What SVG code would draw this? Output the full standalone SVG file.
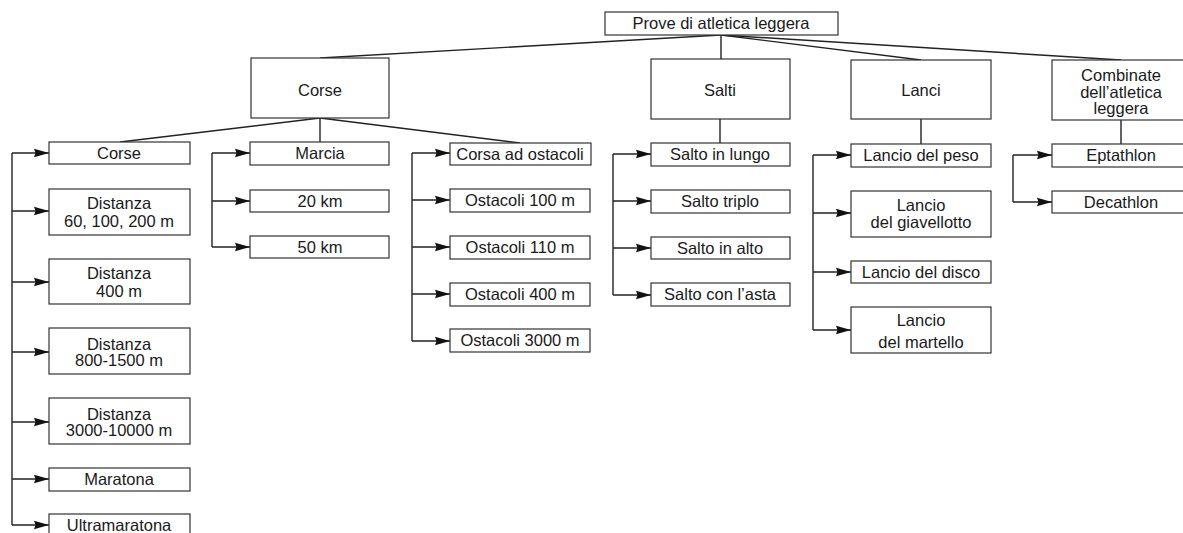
<svg xmlns="http://www.w3.org/2000/svg" width="1183" height="533" viewBox="0 0 1183 533">
<defs>
<style>
rect.b{fill:#fff;stroke:#333;stroke-width:1.2}
text{font-family:"Liberation Sans",Arial,sans-serif;font-size:16.5px;fill:#1a1a1a;text-anchor:middle}
.c path,.c line{fill:none;stroke:#222;stroke-width:1.4}
.a{marker-end:url(#ah)}
</style>
<marker id="ah" markerWidth="16" markerHeight="10" refX="15" refY="5" orient="auto" markerUnits="userSpaceOnUse">
<path d="M0,0.8 L15,5 L0,9.2 L1.5,5 Z" fill="#111" stroke="none"/>
</marker>
</defs>
<rect width="1183" height="533" fill="#fff"/>
<g class="c" id="connectors">
<line x1="721" y1="35" x2="320" y2="58"/>
<line x1="721" y1="35" x2="721" y2="59"/>
<line x1="721" y1="35" x2="921" y2="60"/>
<line x1="721" y1="35" x2="1121" y2="60"/>
<line x1="320" y1="118" x2="120" y2="142"/>
<line x1="320" y1="118" x2="320" y2="142"/>
<line x1="320" y1="118" x2="520" y2="143"/>
<line x1="720" y1="119" x2="720" y2="143"/>
<line x1="921" y1="119" x2="921" y2="144"/>
<line x1="1121" y1="120" x2="1121" y2="144"/>
<path d="M12,153 V525"/>
<path class="a" d="M12,153 H49"/>
<path class="a" d="M12,211 H49"/>
<path class="a" d="M12,282 H49"/>
<path class="a" d="M12,352 H49"/>
<path class="a" d="M12,422 H49"/>
<path class="a" d="M12,479 H49"/>
<path class="a" d="M12,525 H49"/>
<path d="M212,247 V153"/>
<path class="a" d="M212,153 H250"/>
<path class="a" d="M212,201 H250"/>
<path class="a" d="M212,247 H250"/>
<path d="M412,341 V153"/>
<path class="a" d="M412,153 H450"/>
<path class="a" d="M412,200 H450"/>
<path class="a" d="M412,247 H450"/>
<path class="a" d="M412,294 H450"/>
<path class="a" d="M412,341 H450"/>
<path d="M613,295 V154"/>
<path class="a" d="M613,154 H651"/>
<path class="a" d="M613,201 H651"/>
<path class="a" d="M613,248 H651"/>
<path class="a" d="M613,295 H651"/>
<path d="M813,330 V155"/>
<path class="a" d="M813,155 H851"/>
<path class="a" d="M813,213 H851"/>
<path class="a" d="M813,272 H851"/>
<path class="a" d="M813,330 H851"/>
<path d="M1013,202 V155"/>
<path class="a" d="M1013,155 H1052"/>
<path class="a" d="M1013,202 H1052"/>
</g>
<g id="root"><rect class="b" x="605" y="12" width="233" height="23"/><text x="721" y="29">Prove di atletica leggera</text></g>
<g id="corse-top"><rect class="b" x="251" y="58" width="138" height="60"/><text x="320" y="96">Corse</text></g>
<g id="salti"><rect class="b" x="651" y="59" width="139" height="60"/><text x="720" y="96">Salti</text></g>
<g id="lanci"><rect class="b" x="851" y="60" width="140" height="59"/><text x="921" y="96">Lanci</text></g>
<g id="combinate"><rect class="b" x="1052" y="60" width="140" height="60"/><text x="1121" y="81">Combinate</text><text x="1121" y="98">dell’atletica</text><text x="1121" y="114">leggera</text></g>
<g id="corse"><rect class="b" x="49" y="142" width="141" height="22"/><text x="119" y="159">Corse</text></g>
<g id="dist60"><rect class="b" x="49" y="189" width="141" height="46"/><text x="119" y="209">Distanza</text><text x="119" y="227">60, 100, 200 m</text></g>
<g id="dist400"><rect class="b" x="49" y="259" width="141" height="45"/><text x="119" y="279">Distanza</text><text x="119" y="297">400 m</text></g>
<g id="dist800"><rect class="b" x="49" y="328" width="141" height="46"/><text x="119" y="350">Distanza</text><text x="119" y="366">800-1500 m</text></g>
<g id="dist3000"><rect class="b" x="49" y="398" width="141" height="46"/><text x="119" y="420">Distanza</text><text x="119" y="436">3000-10000 m</text></g>
<g id="maratona"><rect class="b" x="49" y="468" width="141" height="23"/><text x="119" y="485">Maratona</text></g>
<g id="ultramaratona"><rect class="b" x="49" y="514" width="141" height="24"/><text x="119" y="531">Ultramaratona</text></g>
<g id="marcia"><rect class="b" x="250" y="142" width="139" height="23"/><text x="320" y="159">Marcia</text></g>
<g id="km20"><rect class="b" x="250" y="190" width="139" height="22"/><text x="320" y="207">20 km</text></g>
<g id="km50"><rect class="b" x="250" y="236" width="139" height="22"/><text x="320" y="253">50 km</text></g>
<g id="ostacoli"><rect class="b" x="450" y="143" width="141" height="22"/><text x="520" y="160">Corsa ad ostacoli</text></g>
<g id="ost100"><rect class="b" x="450" y="189" width="140" height="23"/><text x="520" y="206">Ostacoli 100 m</text></g>
<g id="ost110"><rect class="b" x="450" y="236" width="140" height="23"/><text x="520" y="253">Ostacoli 110 m</text></g>
<g id="ost400"><rect class="b" x="450" y="283" width="140" height="23"/><text x="520" y="300">Ostacoli 400 m</text></g>
<g id="ost3000"><rect class="b" x="450" y="329" width="140" height="23"/><text x="520" y="346">Ostacoli 3000 m</text></g>
<g id="lungo"><rect class="b" x="651" y="143" width="139" height="23"/><text x="720" y="160">Salto in lungo</text></g>
<g id="triplo"><rect class="b" x="651" y="190" width="139" height="23"/><text x="720" y="207">Salto triplo</text></g>
<g id="alto"><rect class="b" x="651" y="237" width="139" height="22"/><text x="720" y="254">Salto in alto</text></g>
<g id="asta"><rect class="b" x="651" y="283" width="139" height="23"/><text x="720" y="300">Salto con l’asta</text></g>
<g id="peso"><rect class="b" x="851" y="144" width="140" height="23"/><text x="921" y="161">Lancio del peso</text></g>
<g id="giavellotto"><rect class="b" x="851" y="191" width="140" height="46"/><text x="921" y="211">Lancio</text><text x="921" y="228">del giavellotto</text></g>
<g id="disco"><rect class="b" x="851" y="261" width="140" height="22"/><text x="921" y="278">Lancio del disco</text></g>
<g id="martello"><rect class="b" x="851" y="307" width="140" height="46"/><text x="921" y="326">Lancio</text><text x="921" y="348">del martello</text></g>
<g id="eptathlon"><rect class="b" x="1052" y="144" width="140" height="23"/><text x="1121" y="161">Eptathlon</text></g>
<g id="decathlon"><rect class="b" x="1052" y="191" width="140" height="22"/><text x="1121" y="208">Decathlon</text></g>
</svg>
